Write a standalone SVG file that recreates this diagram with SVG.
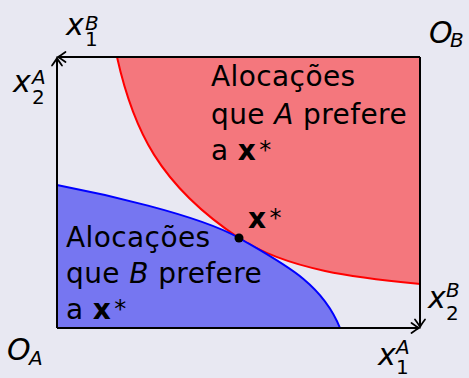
<svg xmlns="http://www.w3.org/2000/svg" width="469" height="378" viewBox="0 0 469 378">
<defs>
<marker id="arr" markerWidth="12" markerHeight="12" refX="0" refY="0" viewBox="-8 -6 10 12" orient="auto" markerUnits="userSpaceOnUse">
<path d="M-7.5,-5 Q-2,-1 0,0 Q-2,1 -7.5,5" fill="none" stroke="#000" stroke-width="1.7" stroke-linecap="round"/>
</marker>
</defs>
<style>
text{font-family:"DejaVu Sans","Liberation Sans",sans-serif;fill:#000}
.t{font-size:28px;letter-spacing:0.4px}
.m{font-size:30px;font-style:italic}
.s{font-size:20px;font-style:italic}
.n{font-size:20px;font-style:normal}
.st{font-size:24px;font-style:normal;font-weight:normal}
.b{font-weight:bold}
.axis{fill:none;stroke:#000;stroke-width:2}
</style>
<rect width="469" height="378" fill="#e8e8f2"/>
<g id="regionA">
<path d="M117,57 L420,57 L420,284 C361,278 289,271 239,238 C159,185 133,129 117,57 Z" fill="#f4777d"/>
<path d="M117,57 C133,129 159,185 239,238 C289,271 361,278 420,284" fill="none" stroke="#ff0000" stroke-width="2"/>
</g>
<g id="regionB">
<path d="M57,185 C97,192.6 199,214.8 239,238 C284,264 322,283 340,328 L57,328 Z" fill="#7676f1"/>
<path d="M57,185 C97,192.6 199,214.8 239,238 C284,264 322,283 340,328" fill="none" stroke="#0000ff" stroke-width="2"/>
</g>
<g id="connectors">
<path class="axis" d="M420,57 L58,57" marker-end="url(#arr)"/>
<path class="axis" d="M57,328 L57,58" marker-end="url(#arr)"/>
<path class="axis" d="M57,328 L419,328" marker-end="url(#arr)"/>
<path class="axis" d="M420,57 L420,327" marker-end="url(#arr)"/>
</g>
<g id="xstar">
<circle cx="239" cy="238" r="4.5" fill="#000"/>
<text x="248" y="228" class="t b">x<tspan class="st" dx="3" dy="-2">*</tspan></text>
</g>
<g id="labelA">
<text class="t" x="211" y="86">Alocações</text>
<text class="t" x="211" y="124">que <tspan font-style="italic">A</tspan> prefere</text>
<text class="t" x="211" y="160">a <tspan class="b">x</tspan><tspan class="st" dx="3" dy="-2">*</tspan></text>
</g>
<g id="labelB">
<text class="t" x="66" y="247">Alocações</text>
<text class="t" x="66" y="283">que <tspan font-style="italic">B</tspan> prefere</text>
<text class="t" x="66" y="319">a <tspan class="b">x</tspan><tspan class="st" dx="3" dy="-2">*</tspan></text>
</g>
<g id="axislabels">
<text class="m" x="66" y="35">x</text><text class="s" x="85" y="30">B</text><text class="n" x="85" y="46">1</text>
<text class="m" x="13" y="92">x</text><text class="s" x="32" y="84">A</text><text class="n" x="32" y="104">2</text>
<text class="m" x="429" y="43">O</text><text class="s" x="450" y="47">B</text>
<text class="m" x="7" y="360">O</text><text class="s" x="29" y="365">A</text>
<text class="m" x="428" y="308">x</text><text class="s" x="446" y="297">B</text><text class="n" x="446" y="320">2</text>
<text class="m" x="378" y="365">x</text><text class="s" x="396" y="354">A</text><text class="n" x="396" y="374">1</text>
</g>
</svg>
